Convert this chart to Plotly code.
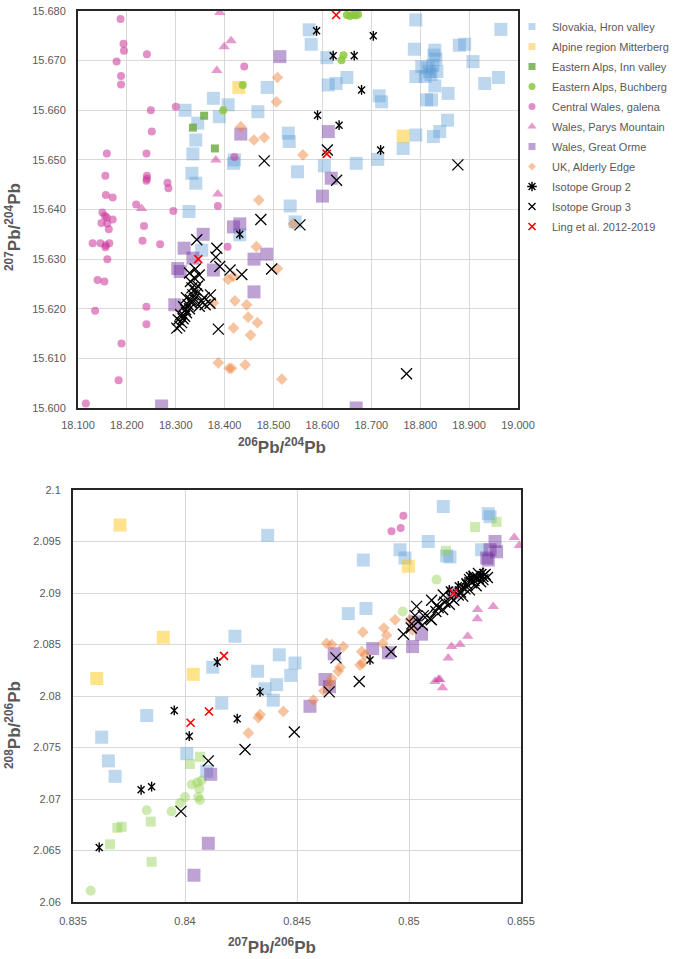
import plotly.graph_objects as go

# ---------------- TOP PANEL: 206Pb/204Pb vs 207Pb/204Pb ----------------
slovakia_top_x = [18.319, 18.345, 18.341, 18.335, 18.333, 18.341, 18.327, 18.377, 18.389, 18.407, 18.418, 18.420,
                  18.431, 18.573, 18.577, 18.487, 18.468, 18.609, 18.612, 18.628, 18.650, 18.716, 18.721, 18.530,
                  18.532, 18.549, 18.534, 18.544, 18.604, 18.669, 18.713, 18.765, 18.791, 18.788, 18.791, 18.830,
                  18.828, 18.832, 18.803, 18.819, 18.834, 18.810, 18.830, 18.813, 18.823, 18.857, 18.880, 18.891,
                  18.908, 18.856, 18.840, 18.827, 18.791, 18.965, 18.960, 18.932, 18.353, 18.815, 18.822, 18.826]
slovakia_top_y = [15.6600, 15.6574, 15.6540, 15.6512, 15.6473, 15.6453, 15.6396, 15.6624, 15.6587, 15.6611, 15.6493, 15.6500,
                  15.6349, 15.6762, 15.6733, 15.6646, 15.6597, 15.6706, 15.6651, 15.6654, 15.6666, 15.6629, 15.6617, 15.6554,
                  15.6537, 15.6476, 15.6407, 15.6375, 15.6488, 15.6493, 15.6501, 15.6523, 15.6782, 15.6723, 15.6668, 15.6721,
                  15.6711, 15.6703, 15.6688, 15.6678, 15.6678, 15.6668, 15.6649, 15.6621, 15.6621, 15.6634, 15.6731, 15.6733,
                  15.6698, 15.6580, 15.6557, 15.6547, 15.6550, 15.6763, 15.6666, 15.6654, 15.6318, 15.6685, 15.6672, 15.6690]

mitterberg_top_x = [18.429, 18.765]
mitterberg_top_y = [15.6646, 15.6548]

inn_top_x = [18.335, 18.358, 18.380]
inn_top_y = [15.6565, 15.6589, 15.6523]

buchberg_top_x = [18.397, 18.437, 18.643, 18.639, 18.650, 18.656, 18.662, 18.668, 18.673]
buchberg_top_y = [15.6600, 15.6651, 15.6711, 15.6701, 15.6792, 15.6790, 15.6792, 15.6791, 15.6793]

cwales_top_x = [18.187, 18.193, 18.194, 18.179, 18.188, 18.188, 18.241, 18.249, 18.251, 18.159, 18.240, 18.156,
                18.241, 18.241, 18.240, 18.283, 18.285, 18.157, 18.171, 18.219, 18.295, 18.150, 18.155, 18.148,
                18.159, 18.171, 18.163, 18.160, 18.235, 18.300, 18.386, 18.406, 18.440, 18.420, 18.130, 18.146,
                18.157, 18.164, 18.156, 18.160, 18.140, 18.154, 18.135, 18.189, 18.183, 18.116, 18.232, 18.268,
                18.240, 18.240]
cwales_top_y = [15.6784, 15.6734, 15.6720, 15.6698, 15.6669, 15.6652, 15.6713, 15.6600, 15.6557, 15.6513, 15.6513, 15.6468,
                15.6468, 15.6462, 15.6458, 15.6454, 15.6443, 15.6429, 15.6424, 15.6410, 15.6397, 15.6394, 15.6387, 15.6373,
                15.6384, 15.6380, 15.6360, 15.6372, 15.6367, 15.6607, 15.6407, 15.6325, 15.6688, 15.6506, 15.6332, 15.6332,
                15.6328, 15.6332, 15.6324, 15.6300, 15.6258, 15.6255, 15.6196, 15.6130, 15.6056, 15.6009, 15.6337, 15.6330,
                15.6204, 15.6169]

parys_top_x = [18.390, 18.413, 18.399, 18.384, 18.382, 18.386, 18.230]
parys_top_y = [15.6797, 15.6740, 15.6728, 15.6680, 15.6500, 15.6431, 15.6402]

orme_top_x = [18.433, 18.418, 18.431, 18.356, 18.317, 18.513, 18.612, 18.618, 18.600, 18.304, 18.309, 18.298,
              18.377, 18.271, 18.486, 18.460, 18.460, 18.669, 18.335]
orme_top_y = [15.6552, 15.6365, 15.6371, 15.6350, 15.6322, 15.6708, 15.6557, 15.6463, 15.6427, 15.6281, 15.6275, 15.6208,
              15.6278, 15.6004, 15.6310, 15.6300, 15.6234, 15.6000, 15.6302]

alderly_top_x = [18.433, 18.508, 18.506, 18.460, 18.481, 18.560, 18.470, 18.465, 18.540, 18.508, 18.418, 18.421,
                 18.445, 18.448, 18.467, 18.418, 18.453, 18.414, 18.442, 18.517, 18.407, 18.387, 18.409, 18.377]
alderly_top_y = [15.6567, 15.6666, 15.6617, 15.6540, 15.6545, 15.6510, 15.6419, 15.6325, 15.6371, 15.6281, 15.6265, 15.6216,
                 15.6208, 15.6183, 15.6172, 15.6161, 15.6147, 15.6080, 15.6087, 15.6058, 15.6259, 15.6091, 15.6080, 15.6212]

group2_top_x = [18.588, 18.704, 18.622, 18.665, 18.680, 18.590, 18.634, 18.719, 18.431]
group2_top_y = [15.6760, 15.6750, 15.6710, 15.6710, 15.6641, 15.6590, 15.6570, 15.6520, 15.6350]

group3_top_x = [18.481, 18.474, 18.554, 18.610, 18.629, 18.877, 18.772, 18.496, 18.435, 18.343, 18.384, 18.382,
                18.390, 18.411, 18.371, 18.370, 18.387,
                18.302, 18.308, 18.312, 18.305, 18.315, 18.318, 18.310, 18.322, 18.320, 18.328, 18.316, 18.325,
                18.332, 18.330, 18.338, 18.322, 18.335, 18.342, 18.340, 18.333, 18.345, 18.330, 18.338, 18.348,
                18.328, 18.340, 18.352, 18.358, 18.348, 18.360]
group3_top_y = [15.6498, 15.6380, 15.6369, 15.6520, 15.6459, 15.6490, 15.6069, 15.6280, 15.6269, 15.6339, 15.6322, 15.6304,
                15.6285, 15.6278, 15.6228, 15.6211, 15.6159,
                15.6161, 15.6165, 15.6172, 15.6178, 15.6180, 15.6185, 15.6188, 15.6192, 15.6198, 15.6200, 15.6204, 15.6208,
                15.6212, 15.6218, 15.6220, 15.6222, 15.6228, 15.6230, 15.6238, 15.6242, 15.6246, 15.6255, 15.6262, 15.6268,
                15.6272, 15.6280, 15.6215, 15.6222, 15.6205, 15.6208]

ling_top_x = [18.628, 18.609, 18.346]
ling_top_y = [15.6792, 15.6512, 15.6300]

# ---------------- BOTTOM PANEL: 207Pb/206Pb vs 208Pb/206Pb ----------------
slovakia_bot_x = [0.83829, 0.84124, 0.84223, 0.84164, 0.83628, 0.83658, 0.83688, 0.84008, 0.84097, 0.84369, 0.84796,
                  0.84729, 0.84808, 0.84421, 0.84491, 0.84324, 0.84472, 0.84409, 0.84357, 0.84394, 0.85153, 0.84960,
                  0.84982, 0.85086, 0.85168, 0.85354, 0.85362, 0.85183, 0.85324]
slovakia_bot_y = [2.0781, 2.0828, 2.0858, 2.0793, 2.0760, 2.0737, 2.0722, 2.0744, 2.0727, 2.0956, 2.0932,
                  2.0880, 2.0885, 2.0840, 2.0832, 2.0824, 2.0820, 2.0811, 2.0807, 2.0796, 2.0984, 2.0942,
                  2.0934, 2.0950, 2.0936, 2.0977, 2.0974, 2.0935, 2.0942]

mitterberg_bot_x = [0.83710, 0.83903, 0.83606, 0.84037, 0.84997]
mitterberg_bot_y = [2.0966, 2.0857, 2.0817, 2.0821, 2.0926]

inn_bot_x = [0.84067, 0.84022, 0.83698, 0.83717, 0.83665, 0.83847, 0.83851, 0.85295, 0.85165, 0.85391]
inn_bot_y = [2.0741, 2.0734, 2.0672, 2.0673, 2.0656, 2.0678, 2.0639, 2.0964, 2.0941, 2.0969]

buchberg_bot_x = [0.83579, 0.83829, 0.83940, 0.83978, 0.84000, 0.84030, 0.84055, 0.84064, 0.84074, 0.84059,
                  0.84067, 0.85123, 0.84972]
buchberg_bot_y = [2.0611, 2.0689, 2.0688, 2.0696, 2.0702, 2.0714, 2.0716, 2.0710, 2.0718, 2.0702,
                  2.0699, 2.0913, 2.0882]

cwales_bot_x = [0.84975, 0.84922, 0.84963]
cwales_bot_y = [2.0975, 2.0960, 2.0963]

parys_bot_x = [0.85470, 0.85492, 0.85306, 0.85376, 0.85305, 0.85262, 0.85190, 0.85228, 0.85175, 0.85131,
               0.85116, 0.85138, 0.85150]
parys_bot_y = [2.0954, 2.0946, 2.0884, 2.0887, 2.0875, 2.0858, 2.0848, 2.0850, 2.0837, 2.0816,
               2.0814, 2.0816, 2.0808]

orme_bot_x = [0.85384, 0.85362, 0.85391, 0.85347, 0.85354, 0.85056, 0.85016, 0.85197, 0.85027, 0.84838, 0.84908,
              0.84666, 0.84625, 0.84645, 0.84558, 0.84115, 0.84104, 0.84040]
orme_bot_y = [2.0950, 2.0942, 2.0940, 2.0934, 2.0932, 2.0860, 2.0848, 2.0900, 2.0872, 2.0846, 2.0842,
              2.0841, 2.0816, 2.0809, 2.0790, 2.0724, 2.0657, 2.0626]

alderly_bot_x = [0.84794, 0.84888, 0.84900, 0.84883, 0.84938, 0.85004, 0.85016, 0.84632, 0.84655, 0.84707, 0.84789,
                 0.84804, 0.84793, 0.84781, 0.84692, 0.84684, 0.84655, 0.84647, 0.84620, 0.84573, 0.84439, 0.84327,
                 0.84335, 0.84283]
alderly_bot_y = [2.0862, 2.0866, 2.0859, 2.0851, 2.0874, 2.0874, 2.0864, 2.0851, 2.0850, 2.0848, 2.0843,
                 2.0840, 2.0832, 2.0830, 2.0828, 2.0824, 2.0817, 2.0812, 2.0805, 2.0796, 2.0785, 2.0779,
                 2.0782, 2.0764]

group2_bot_x = [0.83952, 0.84144, 0.84233, 0.84019, 0.83804, 0.83851, 0.83617, 0.84335, 0.84826,
                0.8518, 0.8522, 0.8525, 0.8528, 0.8530, 0.8532, 0.8527, 0.8533, 0.8524]
group2_bot_y = [2.0786, 2.0833, 2.0778, 2.0761, 2.0709, 2.0712, 2.0653, 2.0804, 2.0835,
                2.0903, 2.0907, 2.0911, 2.0913, 2.0915, 2.0917, 2.0917, 2.0920, 2.0905]

group3_bot_x = [0.84104, 0.83982, 0.84268, 0.84488, 0.84644, 0.84778, 0.84674, 0.84920, 0.84975, 0.85012,
                0.85027, 0.85034, 0.85064, 0.85094, 0.85101, 0.85123, 0.85153,
                0.8501, 0.8504, 0.8506, 0.8508, 0.8510, 0.8512, 0.8513, 0.8515, 0.8516, 0.8518, 0.8519, 0.8520,
                0.8522, 0.8523, 0.8524, 0.8525, 0.8526, 0.8527, 0.8528, 0.8529, 0.8530, 0.8531, 0.8532, 0.8533,
                0.8534, 0.8529, 0.8527, 0.8531, 0.8533, 0.8535]
group3_bot_y = [2.0737, 2.0688, 2.0748, 2.0765, 2.0804, 2.0814, 2.0837, 2.0843, 2.0860, 2.0870,
                2.0878, 2.0887, 2.0878, 2.0875, 2.0893, 2.0888, 2.0898,
                2.0866, 2.0872, 2.0869, 2.0878, 2.0874, 2.0882, 2.0886, 2.0884, 2.0891, 2.0889, 2.0895, 2.0893,
                2.0898, 2.0901, 2.0897, 2.0904, 2.0908, 2.0903, 2.0910, 2.0912, 2.0907, 2.0914, 2.0911, 2.0916,
                2.0918, 2.0916, 2.0913, 2.0919, 2.0913, 2.0915]

ling_bot_x = [0.84025, 0.84107, 0.84174, 0.85198]
ling_bot_y = [2.0774, 2.0785, 2.0839, 2.0900]

# ---------------- tick labels ----------------
top_xticks = [18.1, 18.2, 18.3, 18.4, 18.5, 18.6, 18.7, 18.8, 18.9, 19.0]
top_xtick_text = ["18.100", "18.200", "18.300", "18.400", "18.500", "18.600", "18.700", "18.800", "18.900", "19.000"]
top_yticks = [15.60, 15.61, 15.62, 15.63, 15.64, 15.65, 15.66, 15.67, 15.68]
top_ytick_text = ["15.600", "15.610", "15.620", "15.630", "15.640", "15.650", "15.660", "15.670", "15.680"]
bot_xticks = [0.835, 0.84, 0.845, 0.85, 0.855]
bot_xtick_text = ["0.835", "0.84", "0.845", "0.85", "0.855"]
bot_yticks = [2.06, 2.065, 2.07, 2.075, 2.08, 2.085, 2.09, 2.095, 2.1]
bot_ytick_text = ["2.06", "2.065", "2.07", "2.075", "2.08", "2.085", "2.09", "2.095", "2.1"]

series_names = ["Slovakia, Hron valley", "Alpine region Mitterberg", "Eastern Alps, Inn valley",
                "Eastern Alps, Buchberg", "Central Wales, galena", "Wales, Parys Mountain",
                "Wales, Great Orme", "UK, Alderly Edge", "Isotope Group 2", "Isotope Group 3",
                "Ling et al. 2012-2019"]

top_data = [(slovakia_top_x, slovakia_top_y), (mitterberg_top_x, mitterberg_top_y), (inn_top_x, inn_top_y),
            (buchberg_top_x, buchberg_top_y), (cwales_top_x, cwales_top_y), (parys_top_x, parys_top_y),
            (orme_top_x, orme_top_y), (alderly_top_x, alderly_top_y), (group2_top_x, group2_top_y),
            (group3_top_x, group3_top_y), (ling_top_x, ling_top_y)]
bot_data = [(slovakia_bot_x, slovakia_bot_y), (mitterberg_bot_x, mitterberg_bot_y), (inn_bot_x, inn_bot_y),
            (buchberg_bot_x, buchberg_bot_y), (cwales_bot_x, cwales_bot_y), (parys_bot_x, parys_bot_y),
            (orme_bot_x, orme_bot_y), (alderly_bot_x, alderly_bot_y), (group2_bot_x, group2_bot_y),
            (group3_bot_x, group3_bot_y), (ling_bot_x, ling_bot_y)]

# style: data symbols (layered), legend symbol, top color, bottom color, top size, bottom size, legend size, line width
styles = [
    (["square"], "square", "rgba(91,155,213,0.40)", "rgba(91,155,213,0.40)", 13, 13, 7, 0),
    (["square"], "square", "rgba(255,192,0,0.45)", "rgba(255,192,0,0.45)", 13, 13, 7, 0),
    (["square"], "square", "rgba(112,173,71,0.85)", "rgba(146,208,80,0.45)", 8, 10, 7, 0),
    (["circle"], "circle", "rgba(140,200,60,0.85)", "rgba(146,208,80,0.45)", 8, 10, 7, 0),
    (["circle"], "circle", "rgba(204,51,153,0.55)", "rgba(204,51,153,0.55)", 8, 8, 7, 0),
    (["triangle-up"], "triangle-up", "rgba(204,51,153,0.50)", "rgba(204,51,153,0.50)", 10, 10, 8, 0),
    (["square"], "square", "rgba(112,48,160,0.45)", "rgba(112,48,160,0.45)", 13, 13, 7, 0),
    (["diamond"], "diamond", "rgba(237,125,49,0.45)", "rgba(237,125,49,0.45)", 9, 9, 6, 0),
    (["x-thin-open", "line-ns-open"], "asterisk-open", "black", "black", 7, 7, 8, 1.4),
    (["x-thin-open"], "x-thin-open", "black", "black", 11, 11, 7, 1.3),
    (["x-thin-open"], "x-thin-open", "red", "red", 8, 8, 7, 1.6),
]

fig = go.Figure()

for i, name in enumerate(series_names):
    syms, legsym, ctop, cbot, stop, sbot, sleg, lw = styles[i]
    grp = "g%d" % i
    # legend-only entry with compact symbol
    fig.add_trace(go.Scatter(x=[None], y=[None], mode="markers", name=name, legendgroup=grp,
                             showlegend=True, xaxis="x", yaxis="y",
                             marker=dict(symbol=legsym, size=sleg, color=ctop,
                                         line=dict(width=lw, color=ctop))))
    tx, ty = top_data[i]
    bx, by = bot_data[i]
    for sym in syms:
        fig.add_trace(go.Scatter(x=tx, y=ty, mode="markers", name=name, legendgroup=grp, showlegend=False,
                                 xaxis="x", yaxis="y",
                                 marker=dict(symbol=sym, size=stop, color=ctop,
                                             line=dict(width=lw, color=ctop))))
        fig.add_trace(go.Scatter(x=bx, y=by, mode="markers", name=name, legendgroup=grp, showlegend=False,
                                 xaxis="x2", yaxis="y2",
                                 marker=dict(symbol=sym, size=sbot, color=cbot,
                                             line=dict(width=lw, color=cbot))))

W, H = 680, 959
tick_font = dict(family="Liberation Sans, Arial, sans-serif", size=11, color="#595959")
axis_common = dict(showgrid=True, gridcolor="#D9D9D9", gridwidth=1, zeroline=False,
                   showline=True, linecolor="#262626", linewidth=2, mirror=True,
                   ticks="", tickfont=tick_font, automargin=False)

fig.update_layout(
    width=W, height=H,
    margin=dict(l=0, r=0, t=0, b=0, autoexpand=False),
    paper_bgcolor="white", plot_bgcolor="white",
    font=dict(family="Liberation Sans, Arial, sans-serif", color="#595959"),
    showlegend=True,
    legend=dict(x=512 / W, y=1 - 12 / H, xanchor="left", yanchor="top",
                font=dict(size=11, color="#595959"), tracegroupgap=1,
                bgcolor="rgba(0,0,0,0)", itemclick=False, itemdoubleclick=False),
    xaxis=dict(domain=[78 / W, 518 / W], range=[18.1, 19.0], anchor="y",
               tickvals=top_xticks, ticktext=top_xtick_text, ticklabelstandoff=6, **axis_common),
    yaxis=dict(domain=[1 - 408 / H, 1 - 11 / H], range=[15.60, 15.68], anchor="x",
               tickvals=top_yticks, ticktext=top_ytick_text, ticklabelstandoff=8, **axis_common),
    xaxis2=dict(domain=[73 / W, 521 / W], range=[0.835, 0.855], anchor="y2",
                tickvals=bot_xticks, ticktext=bot_xtick_text, ticklabelstandoff=8, **axis_common),
    yaxis2=dict(domain=[1 - 902 / H, 1 - 490 / H], range=[2.06, 2.1], anchor="x2",
                tickvals=bot_yticks, ticktext=bot_ytick_text, ticklabelstandoff=8, **axis_common),
)

title_font = dict(family="Liberation Sans, Arial, sans-serif", size=17, color="#595959")
fig.add_annotation(x=282 / W, y=1 - 446 / H, xref="paper", yref="paper", showarrow=False,
                   text="<b><sup>206</sup>Pb/<sup>204</sup>Pb</b>", font=title_font,
                   xanchor="center", yanchor="middle")
fig.add_annotation(x=13 / W, y=1 - 227 / H, xref="paper", yref="paper", showarrow=False,
                   text="<b><sup>207</sup>Pb/<sup>204</sup>Pb</b>", font=title_font, textangle=-90,
                   xanchor="center", yanchor="middle")
fig.add_annotation(x=272 / W, y=1 - 946 / H, xref="paper", yref="paper", showarrow=False,
                   text="<b><sup>207</sup>Pb/<sup>206</sup>Pb</b>", font=title_font,
                   xanchor="center", yanchor="middle")
fig.add_annotation(x=13 / W, y=1 - 725 / H, xref="paper", yref="paper", showarrow=False,
                   text="<b><sup>208</sup>Pb/<sup>206</sup>Pb</b>", font=title_font, textangle=-90,
                   xanchor="center", yanchor="middle")

fig.write_html("out.html")
